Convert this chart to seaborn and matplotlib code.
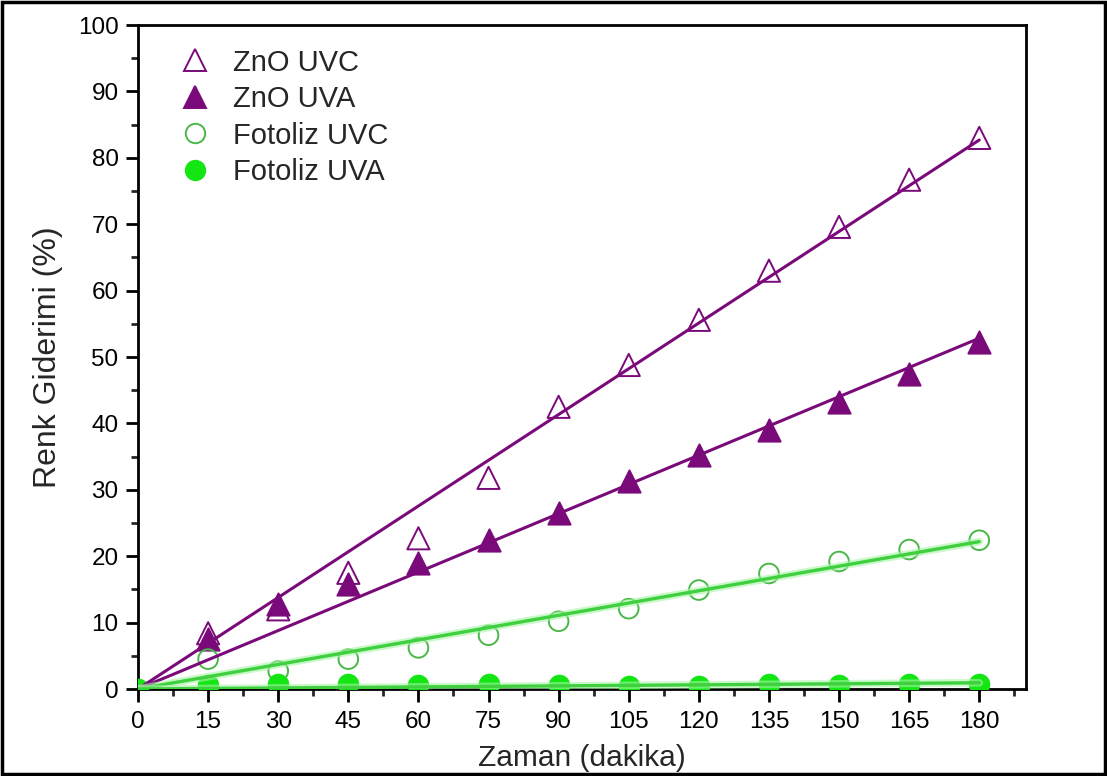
import numpy as np
import pandas as pd
import matplotlib
matplotlib.use("Agg")
import matplotlib.pyplot as plt
import matplotlib.patheffects as pe
from matplotlib.patches import Rectangle
from matplotlib.ticker import MultipleLocator
from matplotlib.lines import Line2D
import seaborn as sns

# ---- data ----
time = [0, 15, 30, 45, 60, 75, 90, 105, 120, 135, 150, 165, 180]
zno_uvc = [0, 8.4, 12.0, 17.5, 22.7, 31.8, 42.5, 48.8, 55.6, 63.0, 69.6, 76.7, 83.0]
zno_uva = [0, 7.5, 12.8, 15.8, 19.0, 22.5, 26.5, 31.3, 35.3, 39.0, 43.2, 47.5, 52.2]
foto_uvc = [0, 4.5, 2.7, 4.5, 6.2, 8.1, 10.2, 12.1, 14.9, 17.4, 19.2, 21.0, 22.4]
foto_uva = [0, 0.6, 0.7, 0.7, 0.6, 0.7, 0.6, 0.5, 0.5, 0.7, 0.6, 0.7, 0.8]
series_names = ["ZnO UVC", "ZnO UVA", "Fotoliz UVC", "Fotoliz UVA"]
xticks = list(range(0, 181, 15))
yticks = list(range(0, 101, 10))

purple = "#7a0a7a"
green_line = "#3fcf3f"
green_edge = "#49b849"
green_fill = "#14e614"

sns.set_style("ticks")
plt.rcParams["font.family"] = ["Liberation Sans", "DejaVu Sans"]

fig = plt.figure(figsize=(11.07, 7.76), dpi=100)
ax = fig.add_axes([138 / 1107, 1 - 689 / 776, (1026 - 138) / 1107, (689 - 25) / 776])

df = pd.DataFrame({"t": time, "zno_uvc": zno_uvc, "zno_uva": zno_uva,
                   "foto_uvc": foto_uvc, "foto_uva": foto_uva})

# (column, label, marker, face, edge, line colour, size, show origin point)
specs = [
    ("zno_uvc", series_names[0], "^", "none", purple, purple, 256, False),
    ("zno_uva", series_names[1], "^", purple, purple, purple, 256, False),
    ("foto_uvc", series_names[2], "o", "none", green_edge, green_line, 200, False),
    ("foto_uva", series_names[3], "o", green_fill, green_fill, green_line, 200, True),
]

for col, name, mk, fc, ec, lc, s, origin in specs:
    sub = df if origin else df[df["t"] > 0]
    sns.scatterplot(data=sub, x="t", y=col, ax=ax, marker=mk, s=s,
                    facecolor=fc, edgecolor=ec, linewidth=1.4,
                    zorder=3, clip_on=True, legend=False)
    # linear fit through origin
    x = np.asarray(time, float)
    y = np.asarray(df[col], float)
    slope = np.sum(x * y) / np.sum(x * x)
    xf = np.array([0, 180.0])
    if lc == purple:
        ax.plot(xf, slope * xf, color=lc, lw=2.2, zorder=4)
    else:
        ax.plot(xf, slope * xf, color=lc, lw=2.4, zorder=4,
                path_effects=[pe.Stroke(linewidth=5.5, foreground="#a6f5a6", alpha=0.6), pe.Normal()])

leg_handles = [
    Line2D([], [], ls="none", marker="^", ms=16, mfc="none", mec=purple, mew=1.4),
    Line2D([], [], ls="none", marker="^", ms=16, mfc=purple, mec=purple, mew=1.4),
    Line2D([], [], ls="none", marker="o", ms=14, mfc="none", mec=green_edge, mew=1.4),
    Line2D([], [], ls="none", marker="o", ms=14, mfc=green_fill, mec=green_fill, mew=1.4),
]
ax.legend(leg_handles, series_names, loc="upper left", frameon=False, fontsize=21,
          bbox_to_anchor=(0.035, 0.982), handletextpad=0.8, labelspacing=0.29,
          handlelength=1.0, borderaxespad=0)

ax.set_xlim(0, 190)
ax.set_ylim(0, 100)
ax.set_xticks(xticks)
ax.set_yticks(yticks)
ax.xaxis.set_minor_locator(MultipleLocator(7.5))
ax.yaxis.set_minor_locator(MultipleLocator(5))
ax.tick_params(axis="both", which="major", direction="out", length=9, width=2,
               labelsize=17.5, colors="black")
ax.tick_params(axis="x", which="major", pad=7)
ax.tick_params(axis="y", which="major", pad=5)
ax.tick_params(axis="both", which="minor", direction="out", length=5, width=2)
ax.tick_params(top=False, right=False, which="both")
for sp in ax.spines.values():
    sp.set_linewidth(2)
    sp.set_color("black")
    sp.set_visible(True)

ax.set_xlabel("Zaman (dakika)", fontsize=21.5, labelpad=8)
ax.set_ylabel("Renk Giderimi (%)", fontsize=23, labelpad=11)

fig.patches.append(Rectangle((0.002, 0.002), 0.996, 0.996, transform=fig.transFigure,
                             fill=False, edgecolor="black", lw=2.5))

fig.savefig("out.png", dpi=100)
